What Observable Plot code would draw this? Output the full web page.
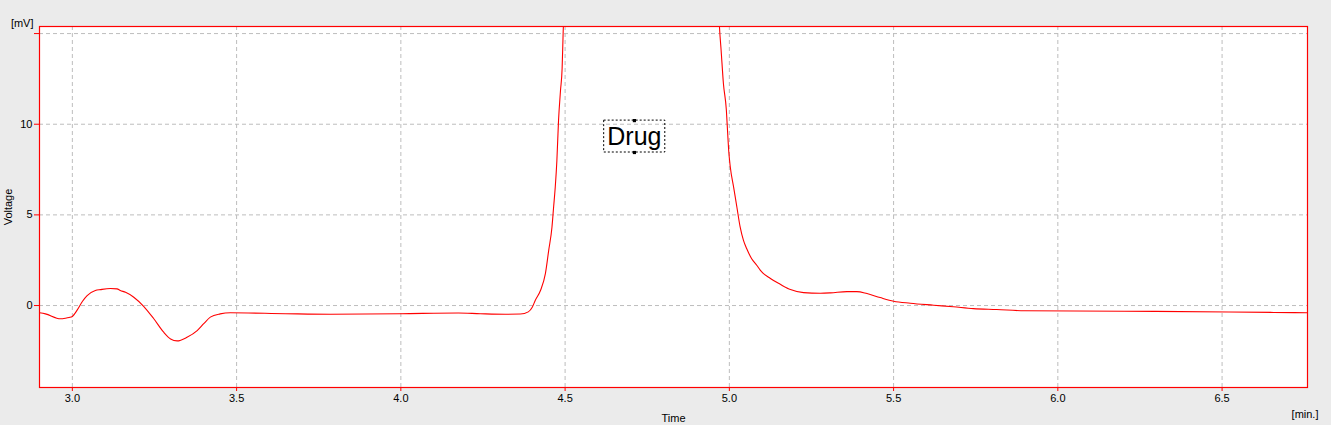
<!DOCTYPE html>
<html>
<head>
<meta charset="utf-8">
<script src="https://cdn.jsdelivr.net/npm/d3@7"></script>
<script src="https://cdn.jsdelivr.net/npm/@observablehq/plot@0.6"></script>
<style>
  html, body { margin: 0; padding: 0; background: #ebebeb; }
  #chart svg { display: block; }
</style>
</head>
<body>
<div id="chart"></div>
<script>
// Chromatogram trace (time in min, voltage in mV)
const time = [
  2.900, 2.918, 2.964, 2.979, 2.990, 3.000, 3.015, 3.031, 3.045, 3.070,
  3.086, 3.116, 3.136, 3.146, 3.162, 3.187, 3.217, 3.248, 3.278, 3.299,
  3.319, 3.349, 3.380, 3.400, 3.420, 3.450, 3.481, 3.649, 3.786, 3.999,
  4.175, 4.242, 4.318, 4.364, 4.388, 4.400, 4.409, 4.425, 4.440, 4.450,
  4.460, 4.465, 4.470, 4.475, 4.480, 4.486, 4.491, 4.494, 4.500, 4.520,
  4.700, 4.950, 4.966, 4.970, 4.975, 4.982, 4.991, 4.995, 4.998, 5.003,
  5.013, 5.023, 5.033, 5.043, 5.053, 5.068, 5.084, 5.094, 5.125,
  5.155, 5.186, 5.226, 5.277, 5.308, 5.358, 5.388, 5.419, 5.459, 5.500,
  5.551, 5.622, 5.682, 5.743, 5.814, 5.900, 6.296, 6.658, 6.760
];
const voltage = [
  -0.40, -0.46, -0.73, -0.70, -0.66, -0.60, -0.24, 0.24, 0.55, 0.83,
  0.88, 0.94, 0.92, 0.83, 0.73, 0.46, -0.04, -0.73, -1.47, -1.84,
  -1.95, -1.75, -1.38, -1.00, -0.64, -0.46, -0.40, -0.45, -0.48, -0.45,
  -0.41, -0.45, -0.48, -0.47, -0.35, -0.10, 0.28, 0.83, 1.76, 3.03,
  4.32, 5.42, 6.52, 8.00, 10.2, 11.86, 13.1, 15.0, 17.5, 30,
  60, 30, 17.0, 15.35, 14.07, 12.23, 10.76, 9.47, 8.55, 7.63,
  6.53, 5.42, 4.32, 3.59, 3.13, 2.58, 2.21, 1.95, 1.49,
  1.17, 0.88, 0.71, 0.68, 0.70, 0.77, 0.77, 0.66, 0.44, 0.24,
  0.13, 0.02, -0.07, -0.17, -0.22, -0.29, -0.32, -0.38, -0.40
];
const xTicks = [3.0, 3.5, 4.0, 4.5, 5.0, 5.5, 6.0, 6.5];
const yTicks = [0, 5, 10, 15];
const yTickLabels = ["0", "5", "10", ""];
const peakLabel = ["Drug"];
const peakLabelTime = [4.711];
const peakLabelVoltage = [9.27];

const trace = time.map((t, i) => ({t, v: voltage[i]}));
const ann = peakLabel.map((s, i) => ({label: s, t: peakLabelTime[i], v: peakLabelVoltage[i]}));

const font = "Liberation Sans, Arial, sans-serif";
const chart = Plot.plot({
  width: 1331,
  height: 425,
  marginLeft: 39,
  marginTop: 26,
  marginRight: 24,
  marginBottom: 38,
  style: {background: "#ebebeb", fontFamily: font, fontSize: "11px", color: "black"},
  x: {domain: [2.9, 6.76]},
  y: {domain: [-4.52, 15.39]},
  marks: [
    Plot.frame({fill: "white", stroke: "none"}),
    Plot.gridX(xTicks, {stroke: "#bdbdbd", strokeOpacity: 1, strokeDasharray: "4,3"}),
    Plot.gridY(yTicks, {stroke: "#bdbdbd", strokeOpacity: 1, strokeDasharray: "4,3"}),
    Plot.line(trace, {x: "t", y: "v", stroke: "red", strokeWidth: 1.1, curve: "monotone-x", clip: true}),
    // annotation box
    Plot.rect(ann, {x1: d => d.t - 0.092, x2: d => d.t + 0.094, y1: d => d.v - 0.83, y2: d => d.v + 0.93,
      fill: "none", stroke: "black", strokeDasharray: "2,2", strokeWidth: 1}),
    Plot.dot(ann, {x: "t", y: d => d.v + 0.93, symbol: "square", r: 1.8, fill: "black"}),
    Plot.dot(ann, {x: "t", y: d => d.v - 0.83, symbol: "square", r: 1.8, fill: "black"}),
    Plot.text(ann, {x: "t", y: "v", text: "label", fontSize: 25, fill: "black", fontFamily: font}),
    Plot.frame({stroke: "red", strokeWidth: 1.2}),
    // axes
    Plot.axisY(yTicks, {tickSize: 5, stroke: "red", text: null, label: null}),
    Plot.axisY(yTicks, {tickSize: 0, tickPadding: 7, tickFormat: (d, i) => yTickLabels[i], fill: "black", label: null}),
    Plot.axisX(xTicks, {tickSize: 4, stroke: "red", text: null, label: null}),
    Plot.axisX(xTicks, {tickSize: 0, tickPadding: 7, tickFormat: d => d.toFixed(1), fill: "black", label: null}),
    // axis titles
    Plot.text(["[mV]"], {frameAnchor: "top-left", lineAnchor: "middle", dx: -6, dy: -3, textAnchor: "end", fill: "black", fontSize: 11}),
    Plot.text(["Voltage"], {frameAnchor: "left", lineAnchor: "middle", textAnchor: "middle", dx: -31, rotate: -90, fill: "black", fontSize: 11}),
    Plot.text(["Time"], {frameAnchor: "bottom", lineAnchor: "middle", dy: 30.5, fill: "black", fontSize: 11}),
    Plot.text(["[min.]"], {frameAnchor: "bottom-right", lineAnchor: "middle", dx: 11, dy: 26.5, textAnchor: "end", fill: "black", fontSize: 11})
  ]
});
document.getElementById("chart").appendChild(chart);
</script>
</body>
</html>
